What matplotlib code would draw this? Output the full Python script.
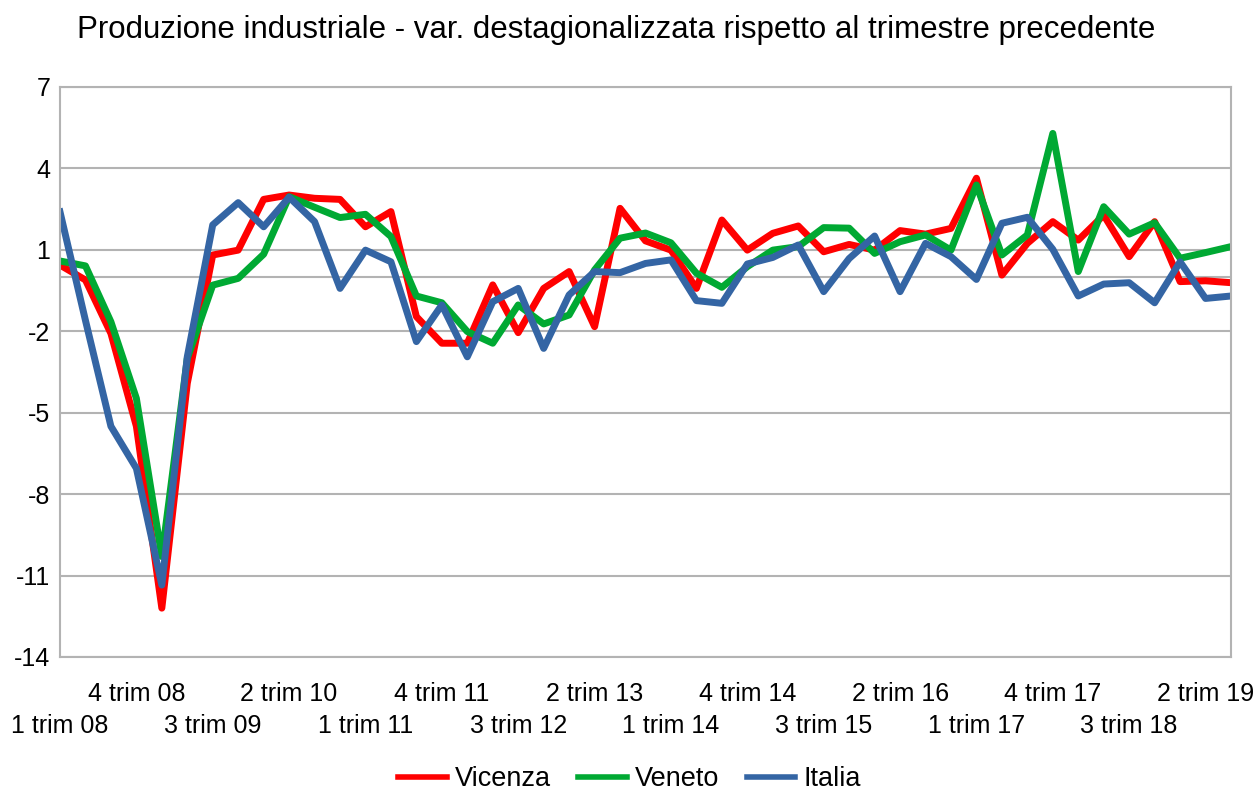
import matplotlib.pyplot as plt

plt.rcParams['font.family'] = ['Liberation Sans', 'DejaVu Sans']
plt.rcParams['axes.unicode_minus'] = False

# Quarters from 1 trim 08 to 3 trim 19
quarters = [f"{q} trim {y:02d}" for y in range(8, 20) for q in range(1, 5)][:47]

vicenza = [0.44, -0.11, -2.08, -5.5, -12.2, -3.92, 0.81, 0.99, 2.86, 3.02,
           2.9, 2.86, 1.85, 2.41, -1.46, -2.44, -2.44, -0.29, -2.05, -0.42,
           0.2, -1.83, 2.53, 1.33, 0.99, -0.42, 2.1, 0.99, 1.61, 1.88,
           0.93, 1.2, 0.99, 1.71, 1.58, 1.79, 3.64, 0.07, 1.24, 2.04,
           1.36, 2.28, 0.75, 2.04, -0.17, -0.14, -0.21]
veneto = [0.59, 0.41, -1.65, -4.47, -10.3, -3.0, -0.3, -0.05, 0.84, 2.96,
          2.57, 2.19, 2.31, 1.49, -0.7, -0.95, -2.01, -2.44, -1.03, -1.73,
          -1.4, 0.26, 1.43, 1.62, 1.26, 0.14, -0.38, 0.38, 0.99, 1.12,
          1.82, 1.8, 0.87, 1.3, 1.55, 0.99, 3.39, 0.81, 1.55, 5.29,
          0.2, 2.59, 1.58, 2.0, 0.69, 0.9, 1.12]
italia = [2.4, -1.6, -5.5, -7.05, -11.35, -2.94, 1.92, 2.74, 1.85, 2.94,
          2.04, -0.42, 0.99, 0.56, -2.38, -1.03, -2.94, -0.91, -0.42, -2.63,
          -0.66, 0.2, 0.16, 0.5, 0.63, -0.87, -0.97, 0.48, 0.72, 1.18,
          -0.54, 0.68, 1.51, -0.54, 1.24, 0.75, -0.09, 1.98, 2.2, 1.02,
          -0.7, -0.26, -0.21, -0.95, 0.56, -0.79, -0.7]

yticks = list(range(-14, 8, 3))

fig = plt.figure(figsize=(12.59, 7.92), dpi=100)
ax = fig.add_axes([60/1259, 1 - 657/792, (1231 - 60)/1259, (657 - 87)/792])

x = list(range(len(quarters)))
ax.plot(x, vicenza, color='#ff0000', lw=5, label='Vicenza')
ax.plot(x, veneto, color='#00a933', lw=5, label='Veneto')
ax.plot(x, italia, color='#3465a4', lw=5, label='Italia')

ax.set_xlim(0, len(quarters) - 1)
ax.set_ylim(-14, 7)
ax.set_yticks(yticks)
ax.yaxis.grid(True, color='#b3b3b3', lw=1.5)
ax.axhline(0, color='#b3b3b3', lw=1.5, zorder=1)
ax.set_axisbelow(True)
for s in ax.spines.values():
    s.set_color('#b3b3b3')
    s.set_linewidth(1.5)

# staggered category labels every 3 quarters
lower = x[0::6]
upper = x[3::6]
ax.set_xticks(lower)
ax.set_xticklabels([quarters[i] for i in lower])
ax.set_xticks(upper, minor=True)
ax.set_xticklabels([quarters[i] for i in upper], minor=True)
ax.tick_params(axis='x', which='major', length=0, pad=41, labelsize=18)
ax.tick_params(axis='x', which='minor', length=0, pad=18, labelsize=18)
ax.tick_params(axis='y', length=0, pad=7, labelsize=18)

fig.suptitle('Produzione industriale - var. destagionalizzata rispetto al trimestre precedente',
             x=616/1259, y=1 - 30/792, va='center', fontsize=22.5)

leg = fig.legend(loc='center', bbox_to_anchor=(0.5, 1 - 779/792), ncol=3, frameon=False,
                 fontsize=19.5, handlelength=1.8, handletextpad=0.3, columnspacing=1.0)
for h in leg.get_lines():
    h.set_linewidth(4)

fig.savefig('out.png', dpi=100)
